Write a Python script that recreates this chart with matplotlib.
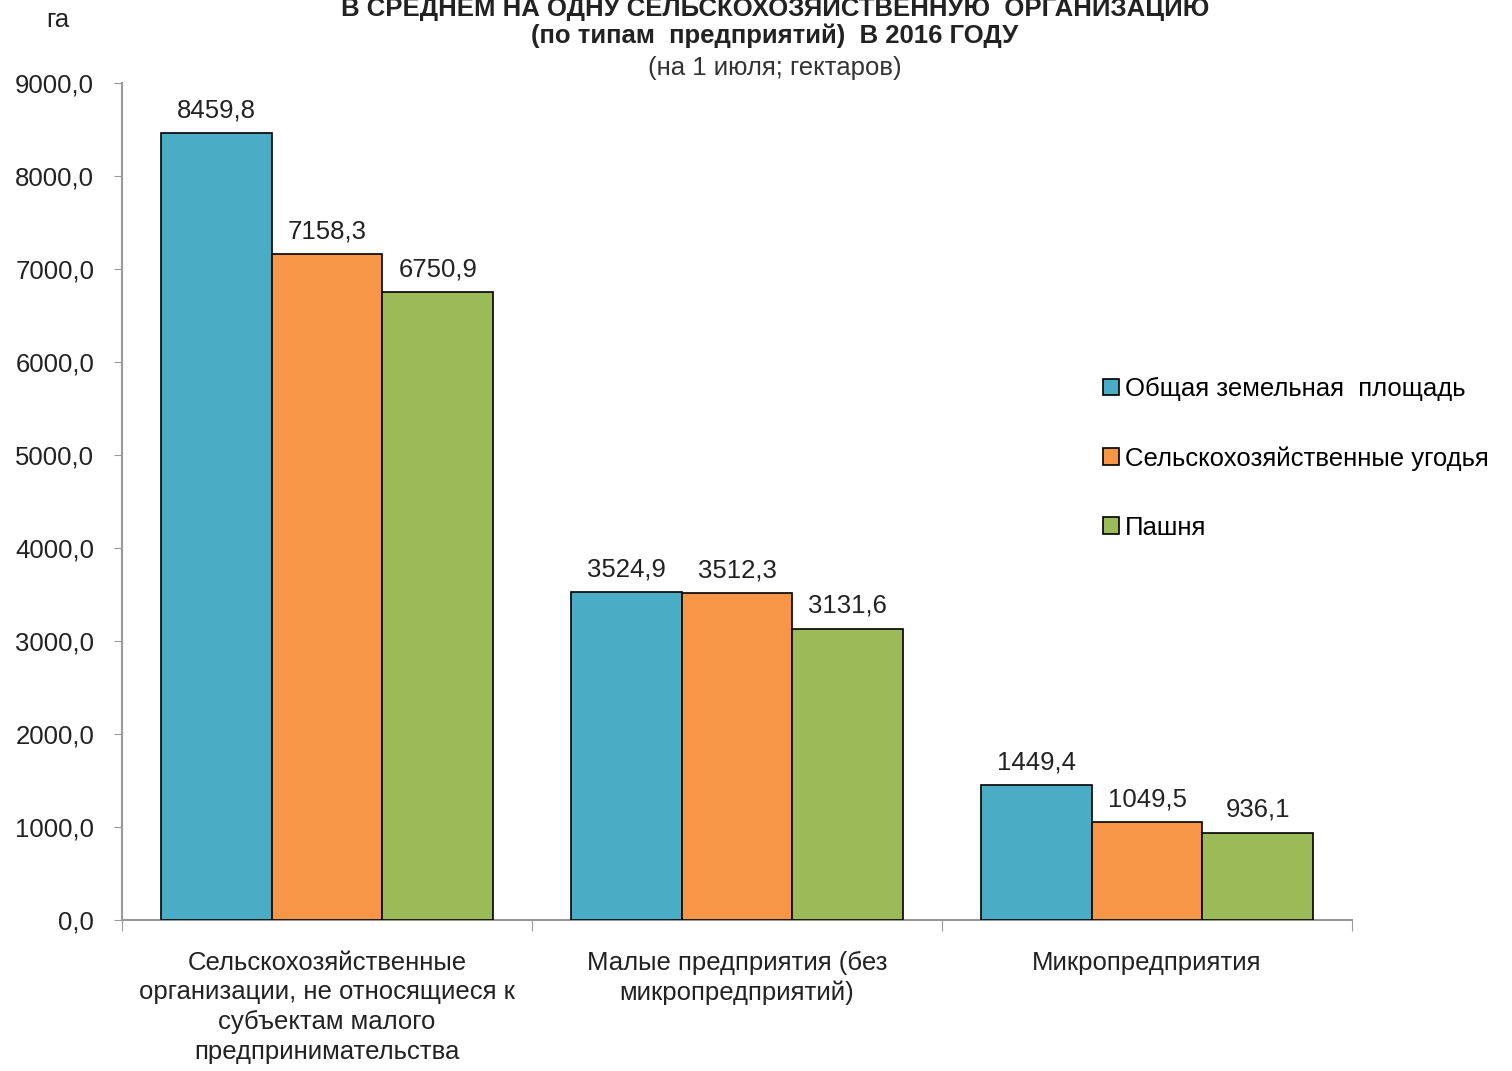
import matplotlib
matplotlib.use('Agg')
import matplotlib.pyplot as plt
import numpy as np
from matplotlib.ticker import FuncFormatter

plt.rcParams['font.family'] = ['Liberation Sans', 'DejaVu Sans']

categories = ['Сельскохозяйственные\nорганизации, не относящиеся к\nсубъектам малого\nпредпринимательства',
              'Малые предприятия (без\nмикропредприятий)',
              'Микропредприятия']
series_names = ['Общая земельная  площадь', 'Сельскохозяйственные угодья', 'Пашня']
total_area = [8459.8, 3524.9, 1449.4]
farm_land = [7158.3, 3512.3, 1049.5]
arable = [6750.9, 3131.6, 936.1]
colors = ['#4BACC6', '#F79646', '#9BBB59']

fs = 18.5

fig = plt.figure(figsize=(15.12, 10.71), dpi=100)
ax = fig.add_axes([122 / 1512, 1 - 920 / 1071, 1230 / 1512, 837 / 1071])

x = np.arange(len(categories))
w = 0.27
for i, vals in enumerate([total_area, farm_land, arable]):
    bars = ax.bar(x + (i - 1) * w, vals, w, color=colors[i], edgecolor='black',
                  linewidth=1.2, label=series_names[i], zorder=3)
    for b, v in zip(bars, vals):
        ax.text(b.get_x() + b.get_width() / 2, v + 120, f'{v:.1f}'.replace('.', ','),
                ha='center', va='bottom', fontsize=fs, color='#222222')

ax.set_xlim(-0.5, 2.5)
ax.set_ylim(0, 9000)
ax.set_yticks(np.arange(0, 9001, 1000))
ax.yaxis.set_major_formatter(FuncFormatter(lambda v, p: f'{v:.1f}'.replace('.', ',')))
ax.tick_params(axis='y', labelsize=fs, length=6, color='#999999', pad=14, labelcolor='#222222')

ax.set_xticks([-0.5, 0.5, 1.5, 2.5])
ax.set_xticklabels([])
ax.tick_params(axis='x', which='major', length=8, color='#999999')
ax.set_xticks(x, minor=True)
ax.set_xticklabels(categories, minor=True, fontsize=fs, linespacing=1.3, color='#222222')
ax.tick_params(axis='x', which='minor', length=0, pad=22)

for s in ['top', 'right']:
    ax.spines[s].set_visible(False)
for s in ['left', 'bottom']:
    ax.spines[s].set_color('#999999')
    ax.spines[s].set_linewidth(1.5)

ax.legend(loc='upper left', bbox_to_anchor=(1080 / 1512, 1 - 354 / 1071),
          bbox_transform=fig.transFigure, frameon=False, fontsize=fs,
          handlelength=0.6, handleheight=0.6, handletextpad=0.25, labelspacing=1.75)

fig.text(775 / 1512, 1 - 7 / 1071, 'В СРЕДНЕМ НА ОДНУ СЕЛЬСКОХОЗЯЙСТВЕННУЮ  ОРГАНИЗАЦИЮ',
         ha='center', va='center', fontsize=fs, fontweight='bold', color='#222222')
fig.text(775 / 1512, 1 - 36 / 1071, '(по типам  предприятий)  В 2016 ГОДУ',
         ha='center', va='center', fontsize=fs, fontweight='bold', color='#222222')
fig.text(775 / 1512, 1 - 68 / 1071, '(на 1 июля; гектаров)',
         ha='center', va='center', fontsize=fs, color='#333333')
fig.text(58 / 1512, 1 - 20 / 1071, 'га', ha='center', va='center', fontsize=fs, color='#222222')

fig.savefig('out.png', dpi=100)
